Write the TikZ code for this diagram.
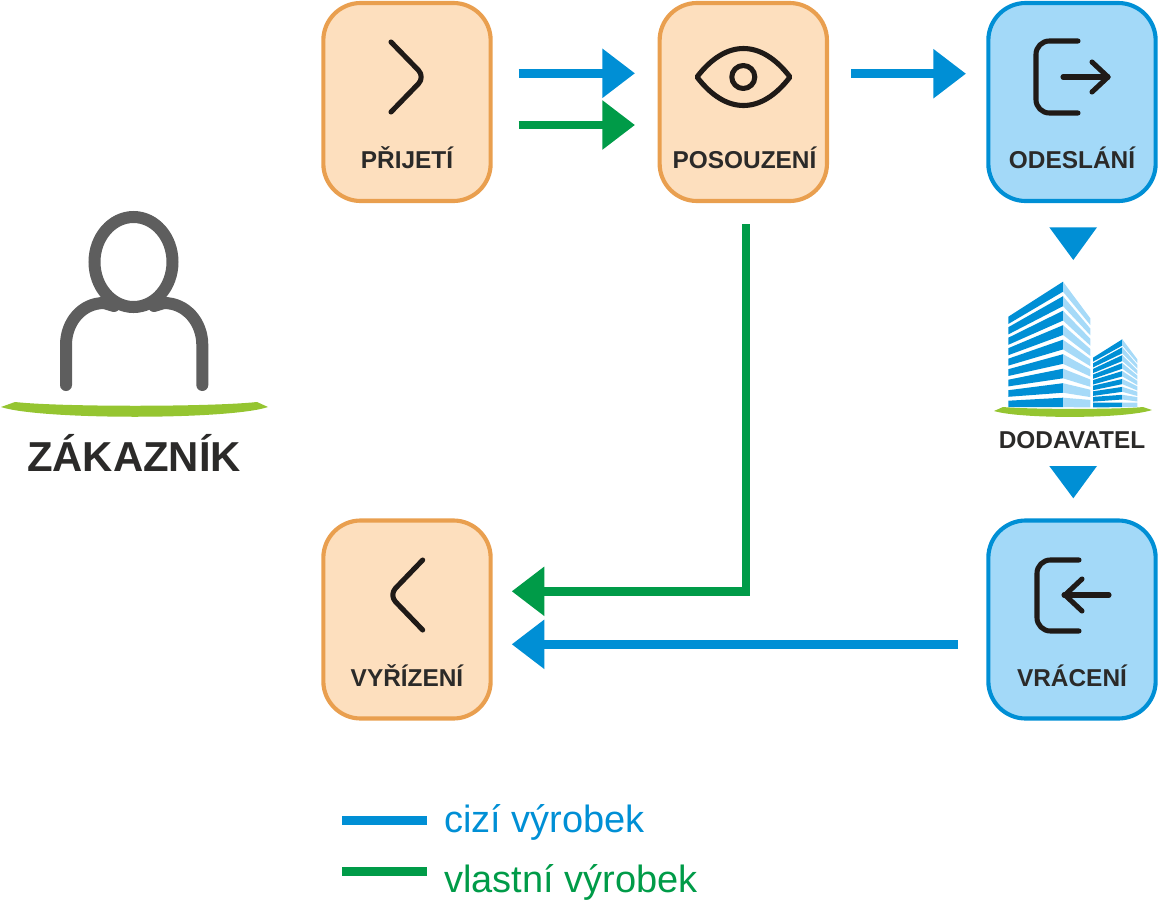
\documentclass[tikz,border=0pt]{standalone}
\usepackage{fontspec}
\setmainfont{Liberation Sans}
\usetikzlibrary{arrows.meta}
\definecolor{cblue}{HTML}{008FD5}
\definecolor{cgreen}{HTML}{009B48}
\definecolor{lblue}{HTML}{A3D9F8}
\definecolor{lorange}{HTML}{FDDFBE}
\definecolor{corange}{HTML}{E99F4F}
\definecolor{cdark}{HTML}{2B2A29}
\definecolor{cicon}{HTML}{1F1A17}
\definecolor{cgray}{HTML}{5E5E5E}
\definecolor{cswoosh}{HTML}{95C531}
\definecolor{face}{HTML}{A6DAF8}
\tikzset{
  boxbase/.style={minimum width=125.5pt,minimum height=148.5pt,rounded corners=28pt,line width=3.1pt,inner sep=0pt},
  obox/.style={boxbase,draw=corange,fill=lorange},
  bbox/.style={boxbase,draw=cblue,fill=lblue},
  lab/.style={anchor=base,inner sep=0pt,text=cdark,font=\fontsize{18.3}{20}\selectfont\bfseries},
  bigarrow/.style={line width=6.7pt,-{Triangle[length=24.5pt,width=35.5pt]}},
  legline/.style={line width=6.8pt},
  legtext/.style={anchor=base west,inner sep=0pt,font=\fontsize{28.5}{32}\selectfont},
  icon/.style={draw=cicon,line width=3.8pt,line cap=round,line join=round},
  person/.style={draw=cgray,line width=9pt,line cap=round}
}
\begin{document}
\begin{tikzpicture}[x=0.75pt,y=-0.75pt]
\useasboundingbox (0,0) rectangle (1158,900);
% boxes
\node[obox] (prijeti) at (407,102) {};
\node[obox] (posouzeni) at (743.3,102) {};
\node[bbox] (odeslani) at (1072,102) {};
\node[obox] (vyrizeni) at (407,619.5) {};
\node[bbox] (vraceni) at (1072,619.5) {};
% labels
\node[lab] (tp) at (407,168.5) {PŘIJETÍ};
\node[lab] (tq) at (744.5,168.5) {POSOUZENÍ};
\node[lab] (to) at (1072,168.5) {ODESLÁNÍ};
\node[lab] (tv) at (407,686.5) {VYŘÍZENÍ};
\node[lab] (tr) at (1072,686.5) {VRÁCENÍ};
\node[lab] (td) at (1072,448) {DODAVATEL};
\node[lab,font=\fontsize{31.4}{34}\selectfont\bfseries] (tz) at (134,471) {ZÁKAZNÍK};
% icons
\draw[icon,rounded corners=7pt] (391,42) -- (425,77) -- (391,112);
\draw[icon,rounded corners=7pt] (422.7,560) -- (389,595) -- (422.7,630);
\draw[icon] (697,77) .. controls (726,39) and (761,39) .. (790,77) .. controls (761,115) and (726,115) .. cycle;
\draw[icon] (743.3,77) circle (11.5);
\draw[icon,rounded corners=10pt] (1078,41) -- (1036,41) -- (1036,113) -- (1078,113);
\draw[icon] (1063,77) -- (1108,77);
\draw[icon] (1092,62) -- (1108,77) -- (1092,92);
\draw[icon,rounded corners=10pt] (1079,560) -- (1037,560) -- (1037,631) -- (1079,631);
\draw[icon] (1109,595) -- (1064,595);
\draw[icon] (1082,579) -- (1065,595) -- (1082,611);
% connectors
\coordinate (a1s) at (518.7,73.3); \coordinate (a1e) at (635,73.3);
\coordinate (a2s) at (518.7,125); \coordinate (a2e) at (635,125);
\coordinate (a3s) at (851,73.7); \coordinate (a3e) at (966,73.7);
\coordinate (a4s) at (746,224); \coordinate (a4c) at (746,591.3); \coordinate (a4e) at (511.7,591.3);
\coordinate (a5s) at (958,644.3); \coordinate (a5e) at (511.7,644.3);
\draw[bigarrow,draw=cblue] (a1s) -- (a1e);
\draw[bigarrow,draw=cgreen] (a2s) -- (a2e);
\draw[bigarrow,draw=cblue] (a3s) -- (a3e);
\draw[bigarrow,draw=cgreen] (a4s) -- (a4c) -- (a4e);
\draw[bigarrow,draw=cblue] (a5s) -- (a5e);
% down triangles
\fill[cblue] (1049.3,227.3) -- (1097,227.3) -- (1073.3,260) -- cycle;
\fill[cblue] (1049.3,466) -- (1097,466) -- (1073.3,498.3) -- cycle;
% person
\draw[person] (133.5,262) ellipse (39 and 45);
\draw[person] (66,385) -- (66,345) .. controls (66,322) and (82,303) .. (104,303) -- (114,306);
\draw[person] (202.3,385) -- (202.3,345) .. controls (202.3,322) and (186,303) .. (164,303) -- (154,306);
\fill[cswoosh] (1,407) -- (15,402) .. controls (60,407) and (210,407) .. (257,402) -- (268,407) .. controls (230,420) and (40,420) .. cycle;
% buildings
\foreach \i in {0,...,8}{
  \pgfmathsetmacro{\ct}{281.7+14.5*\i}
  \pgfmathsetmacro{\cb}{291.7+14.43*\i}
  \pgfmathsetmacro{\lt}{316.7+10.5*\i}
  \pgfmathsetmacro{\lb}{324+10.4*\i}
  \pgfmathsetmacro{\rt}{318.3+10.2*\i}
  \pgfmathsetmacro{\rb}{325+10.3*\i}
  \fill[cblue] (1008.3,\lt) -- (1063,\ct) -- (1063,\cb) -- (1008.3,\lb) -- cycle;
  \fill[face] (1063,\ct) -- (1090.3,\rt) -- (1090.3,\rb) -- (1063,\cb) -- cycle;
  \pgfmathsetmacro{\sct}{339.3+7.93*\i}
  \pgfmathsetmacro{\scb}{345.6+7.7*\i}
  \pgfmathsetmacro{\slt}{357.7+5.6*\i}
  \pgfmathsetmacro{\slb}{361.7+5.7*\i}
  \pgfmathsetmacro{\srt}{359.3+5.4*\i}
  \pgfmathsetmacro{\srb}{363+5.5*\i}
  \fill[cblue] (1093,\slt) -- (1122.3,\sct) -- (1122.3,\scb) -- (1093,\slb) -- cycle;
  \fill[face] (1122.3,\sct) -- (1137.3,\srt) -- (1137.3,\srb) -- (1122.3,\scb) -- cycle;
}
\fill[cswoosh] (994,411) -- (1003,407) .. controls (1030,409.5) and (1120,409.5) .. (1143,407) -- (1152,410) .. controls (1125,419) and (1020,419) .. cycle;
% legend
\coordinate (l1s) at (342.3,820.3); \coordinate (l1e) at (427.3,820.3);
\coordinate (l2s) at (342.3,871.7); \coordinate (l2e) at (427.3,871.7);
\draw[legline,cblue] (l1s) -- (l1e);
\draw[legline,cgreen] (l2s) -- (l2e);
\node[legtext,text=cblue] (lt1) at (444,832.7) {cizí výrobek};
\node[legtext,text=cgreen] (lt2) at (444,892.7) {vlastní výrobek};
\end{tikzpicture}
\end{document}
